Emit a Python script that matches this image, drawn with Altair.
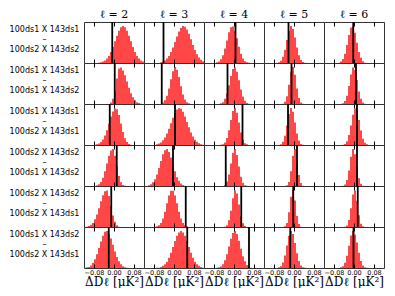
import altair as alt
import pandas as pd

# ---------------- data ----------------
ELLS = [2, 3, 4, 5, 6]
ROW_FIRST = ["100ds1 X 143ds1", "100ds1 X 143ds1", "100ds1 X 143ds1",
             "100ds2 X 143ds2", "100ds2 X 143ds2", "100ds1 X 143ds2"]
ROW_SECOND = ["100ds2 X 143ds2", "100ds1 X 143ds2", "100ds2 X 143ds1",
              "100ds1 X 143ds2", "100ds2 X 143ds1", "100ds2 X 143ds1"]
X_MIN, X_MAX = -0.12, 0.12
BIN_WIDTH = 0.008
TICKS = [-0.08, 0.0, 0.08]

# histogram per panel: (index of first bin, relative heights), one entry per ell
HIST_R1 = [
    (7, [1, 2, 4, 7, 12, 19, 30, 43, 59, 74, 87, 97, 100, 97, 87, 74, 59, 43, 30, 19, 12, 7, 4]),
    (8, [2, 4, 7, 12, 19, 30, 42, 57, 72, 85, 95, 100, 98, 91, 79, 64, 49, 35, 24, 15, 9, 5]),
    (6, [2, 4, 10, 21, 39, 61, 83, 97, 99, 87, 67, 44, 25, 12, 5, 2, 1]),
    (7, [2, 6, 17, 36, 62, 88, 100, 92, 69, 42, 21, 8, 3, 1]),
    (7, [1, 4, 11, 25, 49, 76, 96, 99, 82, 55, 30, 14, 5, 1]),
]
HIST_R2 = [
    (13, [4, 14, 36, 69, 96, 99, 91, 78, 61, 44, 29, 18, 10, 5, 3, 1]),
    (9, [4, 10, 22, 42, 67, 89, 100, 93, 73, 48, 26, 12, 5, 2]),
    (8, [2, 5, 14, 29, 51, 76, 95, 99, 87, 64, 39, 20, 9, 3, 1]),
    (9, [1, 6, 21, 52, 86, 100, 79, 42, 16, 4, 1]),
    (9, [2, 8, 22, 49, 80, 99, 92, 65, 34, 14, 4, 1]),
]
HIST_R3 = [
    (5, [1, 2, 4, 8, 15, 26, 40, 58, 77, 91, 99, 97, 81, 58, 35, 18, 8, 3, 1]),
    (6, [2, 4, 7, 13, 20, 31, 44, 59, 74, 87, 96, 100, 98, 90, 77, 62, 48, 34, 23, 14, 9, 5, 2, 1]),
    (8, [1, 2, 7, 19, 40, 68, 92, 100, 87, 61, 34, 15, 5, 2]),
    (8, [2, 9, 25, 53, 84, 100, 90, 61, 31, 12, 3, 1]),
    (9, [1, 3, 10, 27, 53, 82, 99, 93, 68, 39, 17, 6, 2]),
]
HIST_R4 = [
    (5, [1, 2, 5, 11, 22, 40, 61, 82, 96, 100, 82, 53, 27, 10, 3, 1]),
    (2, [2, 5, 10, 18, 31, 49, 68, 86, 97, 100, 92, 77, 58, 40, 24, 14, 7, 3, 1]),
    (10, [3, 12, 31, 61, 90, 100, 84, 53, 25, 9, 2, 1]),
    (11, [2, 11, 40, 82, 100, 72, 30, 8, 1]),
    (9, [1, 4, 16, 42, 79, 100, 86, 52, 21, 6, 1]),
]
HIST_R5 = [
    (1, [1, 3, 6, 11, 21, 34, 51, 70, 86, 97, 99, 84, 57, 31, 14, 5, 1]),
    (6, [2, 5, 11, 23, 41, 64, 85, 98, 98, 85, 64, 41, 23, 11, 5, 2]),
    (10, [1, 5, 18, 44, 78, 99, 91, 61, 29, 10, 3]),
    (10, [2, 11, 40, 82, 100, 72, 30, 8, 1]),
    (10, [1, 4, 19, 51, 88, 99, 71, 32, 9, 2]),
]
HIST_R6 = [
    (0, [1, 2, 3, 7, 14, 24, 37, 54, 72, 87, 98, 100, 93, 80, 63, 45, 30, 18, 10, 5, 2, 1]),
    (6, [1, 1, 3, 6, 10, 17, 28, 41, 57, 73, 87, 96, 100, 96, 87, 73, 57, 41, 28, 17, 10, 6, 3, 1]),
    (6, [1, 2, 4, 10, 21, 37, 58, 79, 95, 100, 92, 74, 52, 32, 18, 8, 3, 1]),
    (7, [2, 5, 15, 34, 61, 87, 100, 92, 68, 40, 19, 7, 2, 1]),
    (8, [2, 5, 14, 33, 60, 88, 100, 91, 69, 41, 19, 7, 2, 1]),
]
HIST_ROWS = [HIST_R1, HIST_R2, HIST_R3, HIST_R4, HIST_R5, HIST_R6]

# observed difference (black line) per panel
OBS_R1 = [-0.007, -0.042, 0.006, -0.022, -0.003]
OBS_R2 = [0.003, -0.049, -0.026, -0.010, 0.008]
OBS_R3 = [-0.017, 0.004, 0.034, -0.024, 0.012]
OBS_R4 = [0.011, -0.004, -0.033, 0.012, 0.012]
OBS_R5 = [-0.011, 0.047, 0.029, -0.003, 0.015]
OBS_R6 = [-0.021, 0.053, 0.060, -0.015, -0.002]
OBS_ROWS = [OBS_R1, OBS_R2, OBS_R3, OBS_R4, OBS_R5, OBS_R6]

X_TITLE = "ΔDℓ [μK²]"

# ---------------- chart ----------------
W, H = 60, 41
LH = 10
xscale = alt.Scale(domain=[X_MIN, X_MAX], nice=False, zero=False)
yscale = alt.Scale(domain=[0, 111], nice=False, zero=True)

panels = []
nrows = len(HIST_ROWS)
for r in range(nrows):
    for c in range(len(ELLS)):
        start, heights = HIST_ROWS[r][c]
        lo = [X_MIN + (start + i) * BIN_WIDTH for i in range(len(heights))]
        hi = [v + BIN_WIDTH for v in lo]
        hdf = pd.DataFrame({"lo": lo, "hi": hi, "h": heights})
        odf = pd.DataFrame({"obs": [OBS_ROWS[r][c]]})
        bottom = r == nrows - 1

        bx_kwargs = dict(orient="bottom", values=TICKS, format=".2f", tickSize=4,
                         offset=-4, domain=False, grid=False, labels=bottom,
                         tickColor="black", tickWidth=1, zindex=1)
        if bottom:
            bx_kwargs.update(labelFontSize=6.5, labelFont="DejaVu Sans", labelPadding=1,
                             labelColor="black", labelFlush=False,
                             titleFont="DejaVu Serif", titleFontSize=12,
                             titleFontWeight="normal", titlePadding=1, titleColor="black")
        xenc = alt.X("lo:Q", scale=xscale, axis=alt.Axis(**bx_kwargs),
                     title=X_TITLE if bottom else None)

        if c == 0:
            yaxis = alt.Axis(title=[ROW_FIRST[r], "–", ROW_SECOND[r]], titleAngle=0,
                             titleAlign="center", titleBaseline="middle",
                             titleX=-40, titleY=H / 2 - 3 - LH, labels=False, ticks=False,
                             domain=False, grid=False, titleFontSize=8,
                             titleFont="DejaVu Sans", titleFontWeight="normal",
                             titleLineHeight=LH, titleColor="black")
            yenc = alt.Y("h:Q", scale=yscale, axis=yaxis)
        else:
            yenc = alt.Y("h:Q", scale=yscale, axis=None)

        bars = alt.Chart(hdf).mark_bar(color="#ff0000", opacity=0.72, clip=True).encode(
            x=xenc, x2="hi:Q", y=yenc, y2=alt.datum(0))
        rule = alt.Chart(odf).mark_rule(color="black", strokeWidth=1.8, clip=True).encode(
            x=alt.X("obs:Q", scale=xscale,
                    axis=alt.Axis(orient="top", values=TICKS, tickSize=4, offset=-4,
                                  domain=False, grid=False, labels=False,
                                  tickColor="black", tickWidth=1, zindex=1),
                    title=None))
        layer = alt.layer(bars, rule).resolve_axis(x="independent").properties(width=W, height=H)
        if r == 0:
            layer = layer.properties(title=alt.TitleParams(
                f"ℓ = {ELLS[c]}", fontSize=11, font="DejaVu Serif",
                fontWeight="normal", offset=2, anchor="middle", color="black"))
        panels.append(layer)

chart = alt.concat(*panels, columns=5, spacing=0, bounds="flush").properties(
    padding={"left": 0, "top": 0, "right": 0, "bottom": 0},
    background="white",
).configure_view(stroke="#333333", strokeWidth=1)

chart.save("out.html", embed_options={"renderer": "svg", "actions": False})
